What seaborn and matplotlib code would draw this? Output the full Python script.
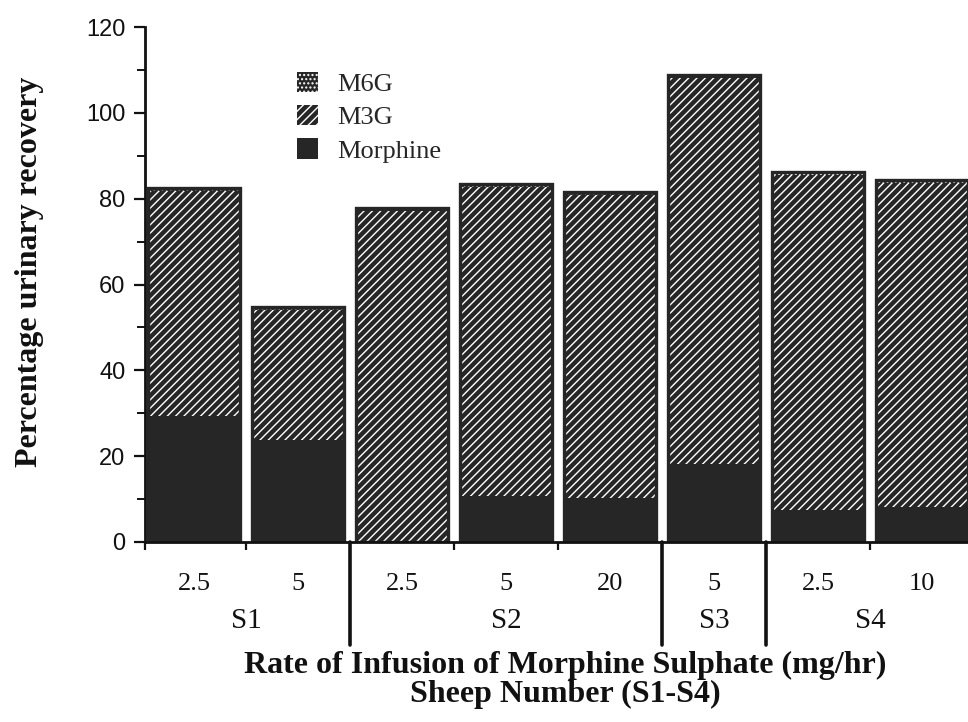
import numpy as np
import pandas as pd
import matplotlib
matplotlib.use("Agg")
import matplotlib.pyplot as plt
import seaborn as sns
from matplotlib.patches import Patch
from matplotlib.transforms import blended_transform_factory

# ---- data ----
rates = ['2.5', '5', '2.5', '5', '20', '5', '2.5', '10']
sheep = ['S1', 'S1', 'S2', 'S2', 'S2', 'S3', 'S4', 'S4']
morphine = [29.4, 23.8, 0.0, 10.7, 10.3, 18.2, 7.5, 8.2]
m3g = [52.4, 30.3, 77.2, 72.0, 70.6, 90.0, 78.0, 75.5]
m6g = [0.7, 0.7, 0.7, 0.7, 0.7, 0.7, 0.7, 0.7]
groups = ['S1', 'S2', 'S3', 'S4']
series_names = ['M6G', 'M3G', 'Morphine']

sns.set_theme(style='ticks')
plt.rcParams['font.family'] = ['Liberation Serif', 'DejaVu Serif']
plt.rcParams['hatch.linewidth'] = 1.0

df = pd.DataFrame({'bar': [f'b{i}' for i in range(len(rates))],
                   'rate': rates, 'sheep': sheep,
                   'morphine': morphine, 'm3g': m3g, 'm6g': m6g})
df['m3g_top'] = df['morphine'] + df['m3g']
df['total'] = df['m3g_top'] + df['m6g']

W, H = 968, 722
fig = plt.figure(figsize=(W / 100, H / 100), dpi=100)
ax = fig.add_axes([145 / W, 1 - 542 / H, 1 - 145 / W, (542 - 27) / H])

dark = '#262626'
ink = '#111111'
common = dict(x='bar', width=0.88, errorbar=None, saturation=1, ax=ax)
sns.barplot(data=df, y='total', color=dark, hatch='....', edgecolor='white', linewidth=0, **common)
sns.barplot(data=df, y='m3g_top', color=dark, hatch='////', edgecolor='white', linewidth=0, **common)
sns.barplot(data=df, y='morphine', color=dark, edgecolor=dark, linewidth=0, **common)
sns.barplot(data=df, y='total', fill=False, color=dark, linewidth=2.4, **common)

n = len(rates)
ax.set_xlim(-0.47, n - 0.56)
ax.set_ylim(0, 120)

# y axis ticks
ax.set_yticks(np.arange(0, 121, 20))
ax.set_yticks(np.arange(10, 120, 20), minor=True)
ax.tick_params(axis='y', which='major', direction='out', length=8, width=1.6, labelsize=17, pad=6, colors=ink)
ax.tick_params(axis='y', which='minor', direction='out', length=6, width=1.4, left=True, colors=ink)
for lbl in ax.get_yticklabels():
    lbl.set_family(['Liberation Sans', 'DejaVu Sans'])

# x axis: labels at bar centres, small ticks at boundaries within groups
ax.set_xticks(np.arange(n))
ax.set_xticklabels(rates)
ax.tick_params(axis='x', which='major', length=0, labelsize=19, pad=22, colors=ink)
bounds = [-0.47, 0.5, 2.5, 3.5, 6.5]
ax.set_xticks(bounds, minor=True)
ax.tick_params(axis='x', which='minor', direction='out', length=6, width=1.6, bottom=True, colors=ink)
ax.set_xlabel('')
ax.set_ylabel('')

for side in ['top', 'right']:
    ax.spines[side].set_visible(False)
for side in ['left', 'bottom']:
    ax.spines[side].set_linewidth(2.0)
    ax.spines[side].set_color(ink)

trans = blended_transform_factory(ax.transData, ax.transAxes)
for xb in [1.5, 4.5, 5.5]:
    ax.plot([xb, xb], [0, -0.20], transform=trans, clip_on=False, color=ink, lw=2.6)

group_centres = {'S1': 0.5, 'S2': 3.0, 'S3': 5.0, 'S4': 6.5}
for g in groups:
    ax.text(group_centres[g], -(621 - 542) / 515, g, transform=trans, ha='center', va='center',
            fontsize=21, color=ink)

handles = [Patch(facecolor=dark, hatch='....', edgecolor='white', linewidth=0, label=series_names[0]),
           Patch(facecolor=dark, hatch='////', edgecolor='white', linewidth=0, label=series_names[1]),
           Patch(facecolor=dark, edgecolor=dark, linewidth=0, label=series_names[2])]
ax.legend(handles=handles, loc='upper left', bbox_to_anchor=(297 / W, 1 - 72 / H),
          bbox_transform=fig.transFigure, frameon=False, fontsize=19, handlelength=0.78,
          handleheight=0.8, handletextpad=0.75, labelspacing=0.34, borderpad=0, borderaxespad=0)

fig.text(565 / W, 1 - 665 / H, 'Rate of Infusion of Morphine Sulphate (mg/hr)', ha='center', va='center',
         fontsize=23, fontweight='bold', color=ink)
fig.text(565 / W, 1 - 694 / H, 'Sheep Number (S1-S4)', ha='center', va='center',
         fontsize=23, fontweight='bold', color=ink)
fig.text(30 / W, 1 - 272 / H, 'Percentage urinary recovery', ha='center', va='center', rotation=90,
         fontsize=23, fontweight='bold', color=ink)

fig.savefig('out.png', dpi=100)
